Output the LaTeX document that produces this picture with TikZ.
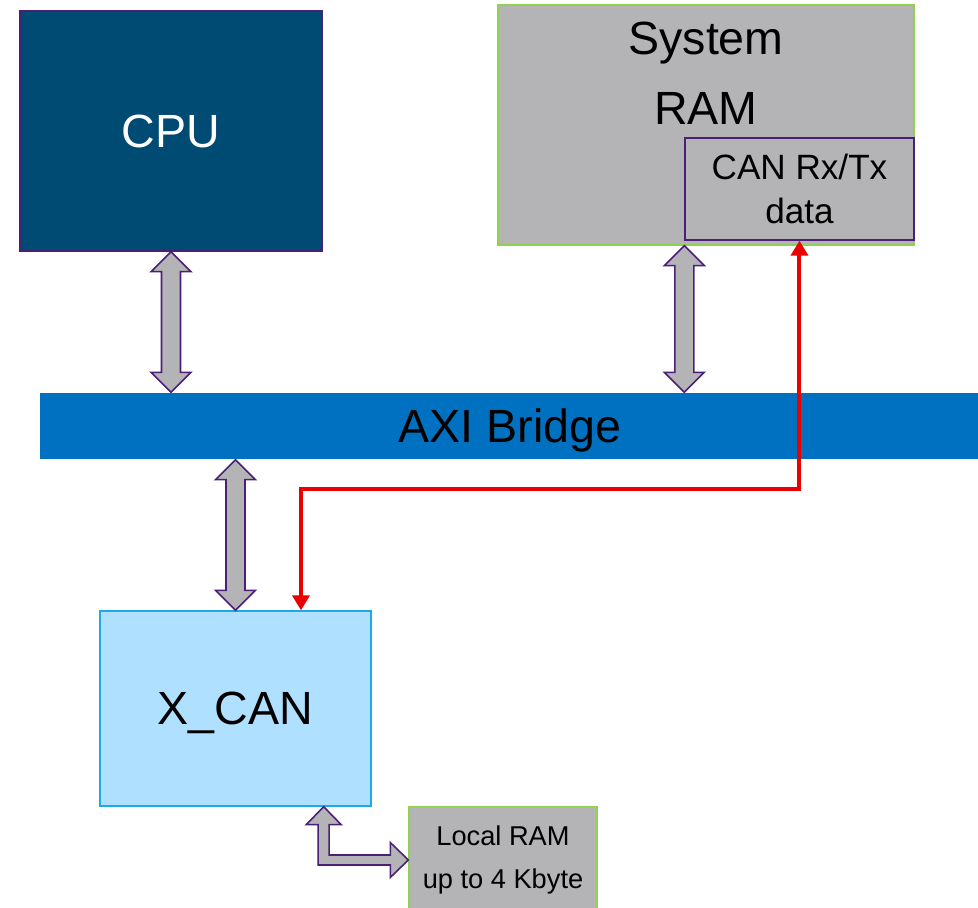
\documentclass[tikz,border=0pt]{standalone}
\usepackage{fontspec}
\setmainfont{Liberation Sans}
\usetikzlibrary{arrows.meta,calc,positioning}
\definecolor{cpublue}{RGB}{0,75,115}
\definecolor{axiblue}{RGB}{0,112,192}
\definecolor{canlight}{RGB}{176,224,255}
\definecolor{canedge}{RGB}{30,170,230}
\definecolor{memgray}{RGB}{180,180,182}
\definecolor{memgreen}{RGB}{146,208,80}
\definecolor{edgepurple}{RGB}{75,30,120}
\definecolor{flowred}{RGB}{235,0,0}

\begin{document}
\begin{tikzpicture}[x=0.02cm,y=-0.02cm,
  block/.style={inner sep=0pt, line width=0.8pt},
  big/.style={font=\fontsize{26.5}{40}\selectfont, text depth=0pt},
  bus/.style={fill=memgray, draw=edgepurple, line width=0.9pt, line join=miter},
  dataflow/.style={draw=flowred, line width=0.08cm, {Triangle[width=0.34cm,length=0.3cm]}-{Triangle[width=0.34cm,length=0.3cm]}}]
  \clip (0,0) rectangle (978,908);

  \node[block, fill=cpublue, draw=edgepurple, minimum width=6.04cm, minimum height=4.8cm, big, text=white] (cpu) at (171,131) {CPU};
  \node[block, fill=memgray, draw=memgreen, minimum width=8.32cm, minimum height=4.8cm] (sysram) at (706,125) {};
  \node[big, inner sep=0pt, align=center, anchor=north] (ramlabel) at ([yshift=-0.34cm]sysram.north) {System\\RAM};
  \node[block, fill=memgray, draw=edgepurple, minimum width=4.58cm, minimum height=2.04cm, align=center,
        font=\fontsize{20}{25.5}\selectfont, anchor=south east] (can) at ([yshift=0.1cm]sysram.south east) {CAN Rx/Tx\\data};
  \node[block, fill=axiblue, minimum width=18.8cm, minimum height=1.32cm, big] (axi) at (510,426) {AXI Bridge};
  \node[block, fill=canlight, draw=canedge, minimum width=5.42cm, minimum height=3.9cm, big] (xcan) at (235.5,708.5) {X\_CAN};
  \node[block, fill=memgray, draw=memgreen, minimum width=3.76cm, minimum height=2.14cm, align=center,
        font=\fontsize{15.5}{24.5}\selectfont] (lram) at (503,860) {Local RAM\\up to 4 Kbyte};

  \coordinate (cpuaxi) at (cpu.south |- axi.north);
  \coordinate (ramtop) at (can.south west |- sysram.south);
  \coordinate (ramaxi) at (ramtop |- axi.north);
  \coordinate (axixcan) at (xcan.north |- axi.south);
  \coordinate (xcanport) at ([xshift=-0.96cm]xcan.south east);
  \coordinate (turn) at (301,489);

  % bus connections
  \foreach \a/\b in {cpu.south/cpuaxi, ramtop/ramaxi, axixcan/xcan.north}
    \path[bus] let \p1=(\a), \p2=(\b) in
      (\x1,\y1) -- (\x1+0.4cm,\y1-0.4cm) -- (\x1+0.19cm,\y1-0.4cm) -- (\x1+0.19cm,\y2+0.4cm)
      -- (\x1+0.4cm,\y2+0.4cm) -- (\x1,\y2) -- (\x1-0.4cm,\y2+0.4cm) -- (\x1-0.19cm,\y2+0.4cm)
      -- (\x1-0.19cm,\y1-0.4cm) -- (\x1-0.4cm,\y1-0.4cm) -- cycle;

  \path[bus] let \p1=(xcanport), \p2=(lram.west) in
    (\x1,\y1) -- (\x1+0.35cm,\y1-0.36cm) -- (\x1+0.11cm,\y1-0.36cm) -- (\x1+0.11cm,\y2+0.1cm)
    -- (\x2-0.36cm,\y2+0.1cm) -- (\x2-0.36cm,\y2+0.35cm) -- (\x2,\y2) -- (\x2-0.36cm,\y2-0.35cm)
    -- (\x2-0.36cm,\y2-0.1cm) -- (\x1-0.11cm,\y2-0.1cm) -- (\x1-0.11cm,\y1-0.36cm) -- (\x1-0.35cm,\y1-0.36cm) -- cycle;

  % data path
  \draw[dataflow] (can.south) |- (turn) -- (turn |- xcan.north);
\end{tikzpicture}
\end{document}
